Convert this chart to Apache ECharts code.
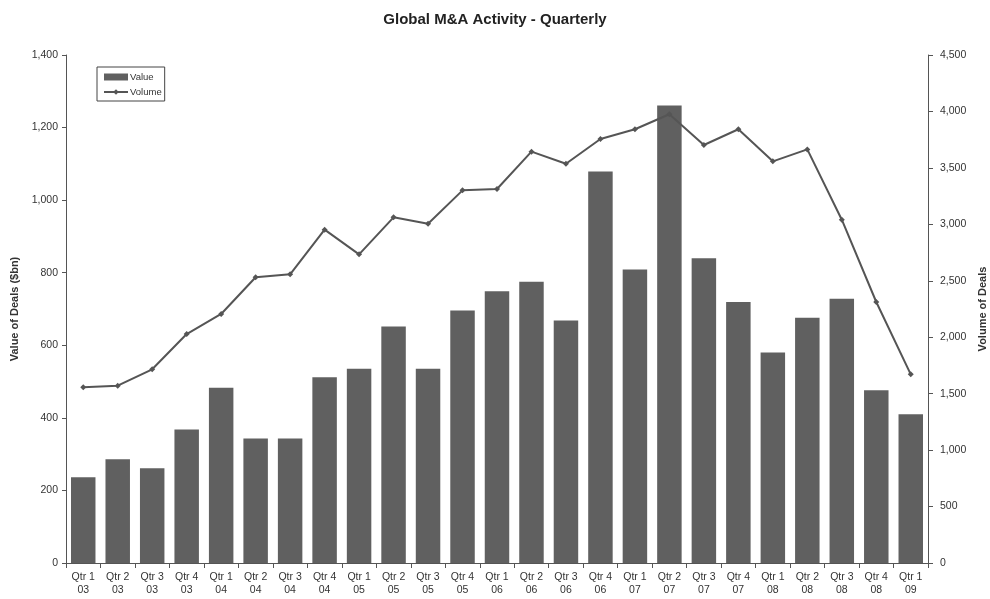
<!DOCTYPE html>
<html>
<head>
<meta charset="utf-8">
<script src="https://cdn.jsdelivr.net/npm/echarts@6/dist/echarts.min.js"></script>
<style>
  html, body { margin: 0; padding: 0; background: #fff; }
  #chart { width: 990px; height: 599px; }
</style>
</head>
<body>
<div id="chart"></div>
<script>
// Quarterly global M&A: deal value ($bn) as bars, deal count as a line
const quarters = [
  'Qtr 1\n03', 'Qtr 2\n03', 'Qtr 3\n03', 'Qtr 4\n03',
  'Qtr 1\n04', 'Qtr 2\n04', 'Qtr 3\n04', 'Qtr 4\n04',
  'Qtr 1\n05', 'Qtr 2\n05', 'Qtr 3\n05', 'Qtr 4\n05',
  'Qtr 1\n06', 'Qtr 2\n06', 'Qtr 3\n06', 'Qtr 4\n06',
  'Qtr 1\n07', 'Qtr 2\n07', 'Qtr 3\n07', 'Qtr 4\n07',
  'Qtr 1\n08', 'Qtr 2\n08', 'Qtr 3\n08', 'Qtr 4\n08',
  'Qtr 1\n09'
];
const dealValue = [
  236, 286, 261, 368, 483, 343, 343, 512, 535, 652, 535, 696,
  749, 775, 668, 1079, 809, 1261, 840, 719, 580, 676, 728, 476, 410
];
const dealVolume = [
  1556, 1571, 1716, 2028, 2206, 2531, 2557, 2953, 2734, 3062, 3006, 3301,
  3313, 3644, 3537, 3756, 3842, 3975, 3703, 3842, 3558, 3664, 3041, 2312, 1671
];

const axisColor = '#555';
const textColor = '#333';
const fontFamily = 'Liberation Sans, Arial, sans-serif';
const thousands = v => v.toLocaleString('en-US');

const chart = echarts.init(document.getElementById('chart'), null, { renderer: 'canvas' });
chart.setOption({
  backgroundColor: '#fff',
  animation: false,
  textStyle: { fontFamily: fontFamily },
  title: {
    text: 'Global M&A Activity - Quarterly',
    left: 'center',
    top: 7,
    textStyle: { fontSize: 15, fontWeight: 'bold', color: '#222', fontFamily: fontFamily }
  },
  legend: {
    orient: 'vertical',
    left: 97,
    top: 67,
    padding: [5, 3, 4, 6],
    itemGap: 5,
    itemWidth: 24,
    itemHeight: 7,
    borderColor: '#444',
    borderWidth: 1,
    textStyle: { fontSize: 9.5, lineHeight: 10, color: textColor, padding: [0, 0, 0, -3] },
    data: [
      { name: 'Value', icon: 'rect' },
      { name: 'Volume' }
    ]
  },
  grid: { left: 66, right: 62, top: 55, bottom: 36, containLabel: false, outerBoundsMode: 'none' },
  xAxis: {
    type: 'category',
    data: quarters,
    axisLine: { lineStyle: { color: axisColor, width: 1 } },
    axisTick: { show: true, length: 5, lineStyle: { color: axisColor } },
    axisLabel: { color: textColor, fontSize: 10.5, lineHeight: 13, interval: 0, margin: 8 }
  },
  yAxis: [
    {
      type: 'value',
      min: 0, max: 1400, interval: 200,
      name: 'Value of Deals ($bn)',
      nameLocation: 'middle',
      nameGap: 45,
      nameTextStyle: { fontSize: 11, fontWeight: 'bold', color: textColor },
      axisLine: { show: true, lineStyle: { color: axisColor } },
      axisTick: { show: true, length: 4, lineStyle: { color: axisColor } },
      axisLabel: { color: textColor, fontSize: 10.5, margin: 8, formatter: thousands },
      splitLine: { show: false }
    },
    {
      type: 'value',
      min: 0, max: 4500, interval: 500,
      name: 'Volume of Deals',
      nameLocation: 'middle',
      nameGap: 48,
      nameRotate: 90,
      nameTextStyle: { fontSize: 11, fontWeight: 'bold', color: textColor },
      axisLine: { show: true, lineStyle: { color: axisColor } },
      axisTick: { show: true, length: 5, lineStyle: { color: axisColor } },
      axisLabel: { color: textColor, fontSize: 10.5, margin: 12, formatter: thousands },
      splitLine: { show: false }
    }
  ],
  series: [
    {
      name: 'Value',
      type: 'bar',
      yAxisIndex: 0,
      data: dealValue,
      barCategoryGap: '29%',
      itemStyle: { color: '#606060' }
    },
    {
      name: 'Volume',
      type: 'line',
      yAxisIndex: 1,
      data: dealVolume,
      symbol: 'diamond',
      symbolSize: 6,
      lineStyle: { color: '#555', width: 2 },
      itemStyle: { color: '#555' }
    }
  ]
});
</script>
</body>
</html>
